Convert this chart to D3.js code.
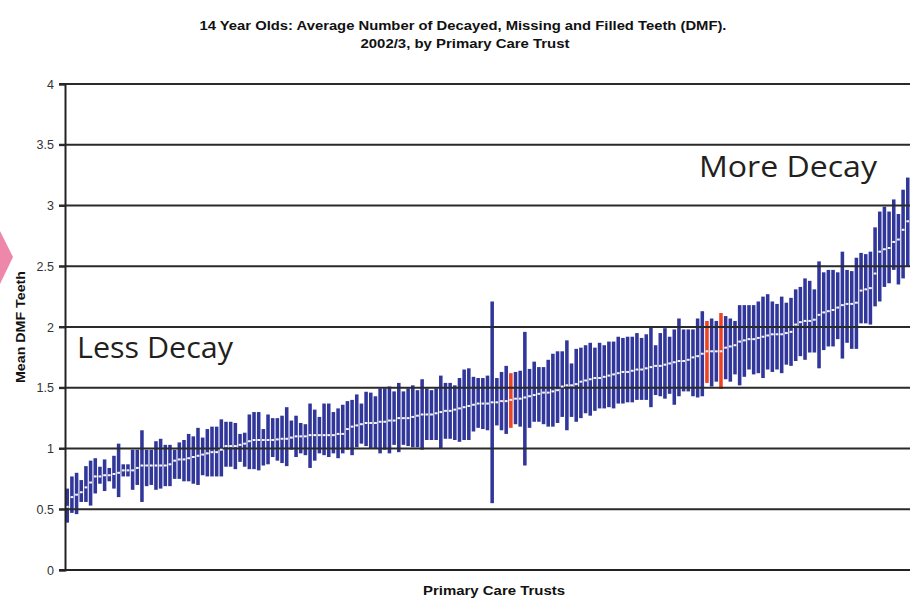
<!DOCTYPE html>
<html>
<head>
<meta charset="utf-8">
<script src="https://cdn.jsdelivr.net/npm/d3@7"></script>
<style>
  html, body { margin: 0; padding: 0; background: #fff; }
  svg { display: block; }
</style>
</head>
<body>
<svg id="chart" width="910" height="598"></svg>
<script>
// ---- data ----
const titleLines = ["14 Year Olds: Average Number of Decayed, Missing and Filled Teeth (DMF).", "2002/3, by Primary Care Trust"];
const yTicks = [0, 0.5, 1, 1.5, 2, 2.5, 3, 3.5, 4];
const yTickLabels = ["0", "0.5", "1", "1.5", "2", "2.5", "3", "3.5", "4"];

const meanDMF = [
  0.52,0.60,0.62,0.64,0.68,0.72,0.77,0.77,0.78,0.78,0.79,0.80,0.82,0.82,0.82,0.84,0.86,0.86,0.86,0.86,
  0.86,0.86,0.87,0.90,0.91,0.91,0.92,0.93,0.94,0.95,0.96,0.97,0.97,0.99,1.02,1.02,1.02,1.03,1.04,1.06,
  1.07,1.07,1.07,1.07,1.07,1.075,1.08,1.08,1.09,1.10,1.10,1.10,1.11,1.11,1.11,1.11,1.11,1.11,1.12,1.12,
  1.16,1.18,1.19,1.20,1.21,1.21,1.21,1.22,1.22,1.23,1.23,1.25,1.25,1.25,1.26,1.27,1.28,1.28,1.28,1.29,
  1.30,1.31,1.31,1.32,1.33,1.34,1.35,1.36,1.37,1.37,1.37,1.38,1.38,1.39,1.39,1.40,1.41,1.41,1.42,1.43,
  1.44,1.45,1.46,1.46,1.47,1.48,1.51,1.52,1.52,1.53,1.55,1.56,1.57,1.58,1.58,1.59,1.60,1.61,1.62,1.63,
  1.63,1.64,1.65,1.65,1.66,1.67,1.68,1.68,1.69,1.70,1.71,1.72,1.72,1.73,1.75,1.76,1.78,1.80,1.80,1.80,
  1.80,1.83,1.84,1.85,1.88,1.89,1.90,1.90,1.91,1.92,1.93,1.94,1.94,1.94,1.95,1.96,2.02,2.04,2.05,2.05,
  2.06,2.10,2.12,2.13,2.14,2.16,2.18,2.19,2.19,2.20,2.30,2.31,2.32,2.44,2.62,2.64,2.65,2.70,2.72,2.80,
  2.87
];
const lowerCI = [
  0.39,0.47,0.46,0.56,0.56,0.53,0.63,0.71,0.65,0.73,0.67,0.60,0.77,0.77,0.66,0.70,0.56,0.69,0.70,0.66,
  0.67,0.69,0.69,0.75,0.75,0.73,0.73,0.71,0.70,0.78,0.77,0.77,0.77,0.77,0.85,0.85,0.83,0.89,0.85,0.83,
  0.83,0.82,0.86,0.87,0.93,0.90,0.88,0.855,0.99,0.93,0.96,0.945,0.84,0.90,0.96,0.945,0.93,0.96,0.92,0.96,
  0.99,0.945,1.01,1.04,1.02,1.00,1.00,0.96,0.99,0.96,1.03,0.97,1.03,1.02,1.01,1.01,0.99,1.07,1.07,1.07,
  1.00,1.08,1.08,1.07,1.055,1.07,1.07,1.14,1.17,1.16,1.15,0.55,1.19,1.15,1.12,1.17,1.20,1.18,0.86,1.17,
  1.22,1.22,1.20,1.18,1.18,1.21,1.26,1.15,1.26,1.22,1.25,1.29,1.27,1.31,1.33,1.33,1.34,1.33,1.37,1.37,
  1.38,1.38,1.40,1.40,1.40,1.34,1.44,1.43,1.41,1.45,1.36,1.43,1.47,1.47,1.43,1.42,1.43,1.54,1.51,1.55,
  1.49,1.57,1.55,1.61,1.52,1.59,1.65,1.61,1.62,1.58,1.65,1.63,1.65,1.62,1.69,1.68,1.72,1.76,1.73,1.79,
  1.79,1.66,1.81,1.84,1.84,1.90,1.74,1.87,1.82,1.82,2.03,2.03,2.02,2.17,2.21,2.33,2.36,2.47,2.35,2.40,
  2.50
];
const upperCI = [
  0.67,0.77,0.80,0.74,0.855,0.90,0.92,0.85,0.91,0.84,0.94,1.04,0.87,0.87,0.99,0.99,1.15,0.99,0.99,1.06,
  1.08,1.03,1.03,0.99,1.05,1.07,1.12,1.10,1.17,1.09,1.16,1.18,1.18,1.24,1.22,1.22,1.21,1.12,1.13,1.28,
  1.30,1.30,1.16,1.28,1.25,1.25,1.27,1.34,1.23,1.27,1.21,1.20,1.37,1.32,1.26,1.37,1.37,1.30,1.33,1.36,
  1.39,1.40,1.445,1.37,1.467,1.46,1.43,1.495,1.495,1.51,1.47,1.54,1.47,1.495,1.52,1.48,1.57,1.495,1.48,1.495,
  1.60,1.54,1.54,1.52,1.58,1.65,1.66,1.59,1.58,1.58,1.60,2.21,1.58,1.63,1.68,1.62,1.63,1.64,1.96,1.655,
  1.715,1.67,1.67,1.73,1.78,1.80,1.80,1.89,1.70,1.82,1.83,1.85,1.87,1.83,1.87,1.85,1.88,1.88,1.92,1.91,
  1.92,1.92,1.95,1.91,1.94,2.005,1.85,1.95,1.99,1.92,1.98,2.07,1.98,1.98,1.98,2.07,2.13,2.05,2.07,2.05,
  2.115,2.09,2.07,2.05,2.18,2.18,2.18,2.18,2.21,2.25,2.27,2.21,2.19,2.25,2.20,2.24,2.31,2.33,2.40,2.38,
  2.31,2.54,2.45,2.47,2.47,2.45,2.62,2.47,2.46,2.57,2.61,2.60,2.62,2.82,2.95,2.99,2.95,3.05,2.93,3.13,
  3.23
];
// PCTs shown in red (position in the ranking)
const highlighted = [95, 137, 140];
const categories = meanDMF.map((_, i) => "PCT " + (i + 1));

// ---- layout ----
const svg = d3.select("#chart");
const pL = 65, pR = 910, pT = 84, pB = 570;

const x = d3.scaleBand().domain(categories).range([pL, pR]).paddingInner(0.24).paddingOuter(0.1);
const y = d3.scaleLinear().domain([0, 4]).range([pB, pT]);

const blue = "#31379a", red = "#ef4123";
const sans = "Liberation Sans, Arial, sans-serif";

// pink marker at left edge
svg.append("polygon")
  .attr("points", "0,231 13,257 0,284")
  .attr("fill", "#ee88ab");

// title
svg.append("text").attr("x", 463).attr("y", 30).attr("text-anchor", "middle")
  .attr("font-family", sans).attr("font-weight", "bold")
  .attr("font-size", 12.5).attr("fill", "#111")
  .attr("textLength", 527).attr("lengthAdjust", "spacingAndGlyphs")
  .text(titleLines[0]);
svg.append("text").attr("x", 465).attr("y", 48).attr("text-anchor", "middle")
  .attr("font-family", sans).attr("font-weight", "bold")
  .attr("font-size", 12.5).attr("fill", "#111")
  .attr("textLength", 209).attr("lengthAdjust", "spacingAndGlyphs")
  .text(titleLines[1]);

// bars
const data = categories.map((c, i) => ({ c, i, m: meanDMF[i], lo: lowerCI[i], hi: upperCI[i] }));
svg.append("g").selectAll("rect").data(data).join("rect")
  .attr("x", d => x(d.c))
  .attr("width", x.bandwidth())
  .attr("y", d => y(d.hi))
  .attr("height", d => y(d.lo) - y(d.hi))
  .attr("fill", d => highlighted.includes(d.i) ? red : blue);

// gridlines (drawn over the bars)
svg.append("g").selectAll("line").data(yTicks.slice(1)).join("line")
  .attr("x1", pL - 6).attr("x2", pR)
  .attr("y1", d => y(d)).attr("y2", d => y(d))
  .attr("stroke", "#2a2a2a").attr("stroke-width", 1.8);

// mean markers
svg.append("g").selectAll("rect").data(data).join("rect")
  .attr("x", d => x(d.c) + x.bandwidth() / 2 - 1.4)
  .attr("width", 2.8)
  .attr("y", d => y(d.m) - 1)
  .attr("height", 2)
  .attr("fill", "#f4f4f8");

// y axis
const yAxis = d3.axisLeft(y).tickValues(yTicks)
  .tickFormat((d, i) => yTickLabels[i]).tickSize(6).tickPadding(5);
const gy = svg.append("g").attr("transform", `translate(${pL},0)`).call(yAxis);
gy.select(".domain").attr("stroke", "#222").attr("stroke-width", 2);
gy.selectAll(".tick line").attr("stroke", "#2a2a2a").attr("stroke-width", 1.8);
gy.selectAll(".tick text").attr("font-family", sans)
  .attr("font-size", 12.5).attr("fill", "#333");

// x axis baseline
svg.append("line").attr("x1", pL - 6).attr("x2", pR)
  .attr("y1", y(0)).attr("y2", y(0))
  .attr("stroke", "#222").attr("stroke-width", 2);

// axis titles
svg.append("text")
  .attr("transform", "translate(25,327) rotate(-90)")
  .attr("text-anchor", "middle")
  .attr("font-family", sans).attr("font-weight", "bold")
  .attr("font-size", 13).attr("fill", "#111")
  .attr("textLength", 112).attr("lengthAdjust", "spacingAndGlyphs")
  .text("Mean DMF Teeth");
svg.append("text").attr("x", 494).attr("y", 594.5).attr("text-anchor", "middle")
  .attr("font-family", sans).attr("font-weight", "bold")
  .attr("font-size", 12.5).attr("fill", "#111")
  .attr("textLength", 142).attr("lengthAdjust", "spacingAndGlyphs")
  .text("Primary Care Trusts");

// annotations
svg.append("text").attr("x", 699).attr("y", 177)
  .attr("font-family", "Open Sans, Noto Sans, sans-serif").attr("font-size", 30).attr("fill", "#231f20")
  .attr("textLength", 178).attr("lengthAdjust", "spacingAndGlyphs")
  .text("More Decay");
svg.append("text").attr("x", 77).attr("y", 358)
  .attr("font-family", "Open Sans, Noto Sans, sans-serif").attr("font-size", 30).attr("fill", "#231f20")
  .attr("textLength", 156).attr("lengthAdjust", "spacingAndGlyphs")
  .text("Less Decay");
</script>
</body>
</html>
